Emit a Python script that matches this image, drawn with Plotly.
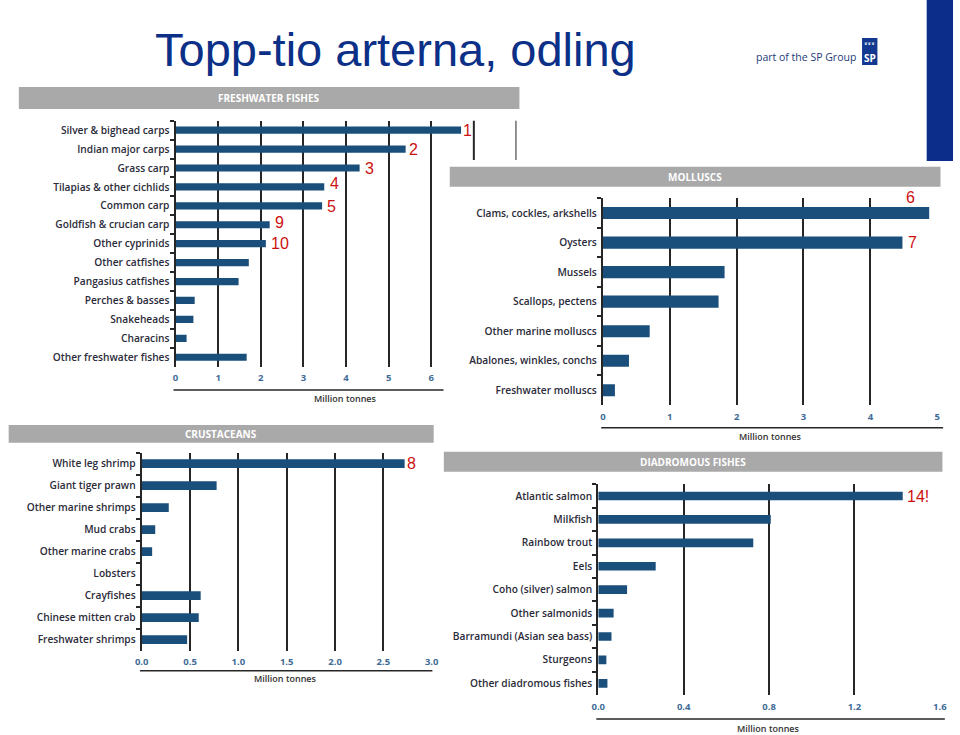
import plotly.graph_objects as go

# ---------------- data ----------------
fresh_species = ["Silver & bighead carps", "Indian major carps", "Grass carp",
                 "Tilapias & other cichlids", "Common carp", "Goldfish & crucian carp",
                 "Other cyprinids", "Other catfishes", "Pangasius catfishes",
                 "Perches & basses", "Snakeheads", "Characins", "Other freshwater fishes"]
fresh_values = [6.70, 5.40, 4.32, 3.49, 3.44, 2.21, 2.12, 1.72, 1.48, 0.45, 0.42, 0.26, 1.67]
fresh_ranks = ["1", "2", "3", "4", "5", "9", "10", None, None, None, None, None, None]
fresh_ticks = [0, 1, 2, 3, 4, 5, 6]
fresh_ticklabels = ["0", "1", "2", "3", "4", "5", "6"]

mollusc_species = ["Clams, cockles, arkshells", "Oysters", "Mussels", "Scallops, pectens",
                   "Other marine molluscs", "Abalones, winkles, conchs", "Freshwater molluscs"]
mollusc_values = [4.88, 4.48, 1.82, 1.73, 0.70, 0.39, 0.18]
mollusc_ranks = ["6", "7", None, None, None, None, None]
mollusc_ticks = [0, 1, 2, 3, 4, 5]
mollusc_ticklabels = ["0", "1", "2", "3", "4", "5"]

crust_species = ["White leg shrimp", "Giant tiger prawn", "Other marine shrimps", "Mud crabs",
                 "Other marine crabs", "Lobsters", "Crayfishes", "Chinese mitten crab",
                 "Freshwater shrimps"]
crust_values = [2.72, 0.775, 0.28, 0.14, 0.108, 0.0, 0.61, 0.59, 0.47]
crust_ranks = ["8", None, None, None, None, None, None, None, None]
crust_ticks = [0.0, 0.5, 1.0, 1.5, 2.0, 2.5, 3.0]
crust_ticklabels = ["0.0", "0.5", "1.0", "1.5", "2.0", "2.5", "3.0"]

diad_species = ["Atlantic salmon", "Milkfish", "Rainbow trout", "Eels", "Coho (silver) salmon",
                "Other salmonids", "Barramundi (Asian sea bass)", "Sturgeons",
                "Other diadromous fishes"]
diad_values = [1.426, 0.808, 0.726, 0.269, 0.135, 0.072, 0.062, 0.038, 0.043]
diad_ranks = ["14!", None, None, None, None, None, None, None, None]
diad_ticks = [0.0, 0.4, 0.8, 1.2, 1.6]
diad_ticklabels = ["0.0", "0.4", "0.8", "1.2", "1.6"]

panel_titles = ["FRESHWATER FISHES", "MOLLUSCS", "CRUSTACEANS", "DIADROMOUS FISHES"]
axis_title = "Million tonnes"
page_title = "Topp-tio arterna, odling"
logo_text = "part of the SP Group"

# ---------------- layout helpers ----------------
W, H = 960, 735


def px(x):
    return x / W


def py(y):
    return 1 - y / H


BAR_COLOR = "#1a4f7c"
GRID_COLOR = "#262626"
LABEL_COLOR = "#2b2b3a"
TICK_COLOR = "#3f6c97"
RED = "#cc1111"
HEADER_GRAY = "#a9a9a9"

panels = [
    dict(species=fresh_species, values=fresh_values, ranks=fresh_ranks,
         ticks=fresh_ticks, ticklabels=fresh_ticklabels, xrange=[0, 8],
         xd=(171, 517), yd=(120.7, 366.7), bw=0.38,
         header=(12, 520, 87, 109), line=(169, 443, 390), mt_y=398, mt_x=344,
         title=panel_titles[0]),
    dict(species=mollusc_species, values=mollusc_values, ranks=mollusc_ranks,
         ticks=mollusc_ticks, ticklabels=mollusc_ticklabels, xrange=[0, 5.0001],
         xd=(604.7, 944), yd=(198.3, 405), bw=0.41,
         header=(449.3, 947.3, 166.7, 186.7), line=(603, 950, 427.7), mt_y=436, mt_x=775,
         title=panel_titles[1]),
    dict(species=crust_species, values=crust_values, ranks=crust_ranks,
         ticks=crust_ticks, ticklabels=crust_ticklabels, xrange=[0, 3.0001],
         xd=(136.7, 431), yd=(452.7, 650.7), bw=0.40,
         header=(1.7, 433, 425, 442.7), line=(135, 431.7, 670.7), mt_y=678, mt_x=283,
         title=panel_titles[2]),
    dict(species=diad_species, values=diad_values, ranks=diad_ranks,
         ticks=diad_ticks, ticklabels=diad_ticklabels, xrange=[0, 1.6001],
         xd=(600, 946.7), yd=(484.3, 695), bw=0.37,
         header=(443.3, 949.3, 451.7, 471.7), line=(598, 951.7, 719), mt_y=728, mt_x=773,
         title=panel_titles[3]),
]

# label offsets (style only): xshift, yshift in px
rank_offsets = {"1": (0, 0), "2": (1, 0), "3": (3, 0), "4": (4, 3), "5": (3, -1),
                "9": (3, 2), "10": (3, 0), "6": (-25, 16), "7": (4, 0), "8": (0, 0),
                "14!": (2, 0)}

fig = go.Figure()
layout = dict(width=W, height=H, autosize=False, margin=dict(l=0, r=0, t=0, b=0, pad=0),
              paper_bgcolor="white", plot_bgcolor="white", showlegend=False,
              shapes=[], annotations=[])

# Header shapes first (below everything)
for i, p in enumerate(panels):
    x0, x1, y0, y1 = p["header"]
    layout["shapes"].append(dict(type="rect", xref="paper", yref="paper",
                                 x0=px(x0), x1=px(x1), y0=py(y1), y1=py(y0),
                                 fillcolor=HEADER_GRAY, line=dict(width=0), layer="below"))
    layout["annotations"].append(dict(xref="paper", yref="paper", x=px((x0 + x1) / 2),
                                      y=py((y0 + y1) / 2), text="<b>%s</b>" % p["title"],
                                      showarrow=False, xanchor="center", yanchor="middle",
                                      font=dict(family="Open Sans", size=10, color="white")))

for i, p in enumerate(panels):
    n = i + 1
    xa = "x" if n == 1 else "x%d" % n
    ya = "y" if n == 1 else "y%d" % n
    xkey = "xaxis" if n == 1 else "xaxis%d" % n
    ykey = "yaxis" if n == 1 else "yaxis%d" % n
    cnt = len(p["species"])

    fig.add_trace(go.Bar(x=p["values"], y=p["species"], orientation="h",
                         xaxis=xa, yaxis=ya, width=p["bw"],
                         marker=dict(color=BAR_COLOR, line=dict(width=0)),
                         hoverinfo="x+y"))

    layout[xkey] = dict(domain=[px(p["xd"][0]), px(p["xd"][1])], anchor=ya,
                        range=p["xrange"], tickvals=p["ticks"], ticktext=p["ticklabels"],
                        showgrid=True, gridcolor=GRID_COLOR, gridwidth=2, zeroline=False,
                        showline=False, ticks="", ticklabelstandoff=4,
                        tickfont=dict(family="Open Sans", size=9.5, color=TICK_COLOR,
                                      weight="bold"),
                        fixedrange=True)
    layout[ykey] = dict(domain=[py(p["yd"][1]), py(p["yd"][0])], anchor=xa,
                        type="category", categoryorder="array", categoryarray=p["species"],
                        range=[cnt - 0.5, -0.5], showline=True, linecolor=GRID_COLOR,
                        linewidth=2, ticks="outside", tickson="boundaries", ticklen=4,
                        tickwidth=1.5, tickcolor=GRID_COLOR, showgrid=False,
                        ticklabelstandoff=2,
                        tickfont=dict(family="Open Sans", size=10.2, color=LABEL_COLOR,
                                      weight=600),
                        fixedrange=True)

    # axis line under tick labels
    lx0, lx1, ly = p["line"]
    layout["shapes"].append(dict(type="line", xref="paper", yref="paper",
                                 x0=px(lx0), x1=px(lx1), y0=py(ly), y1=py(ly),
                                 line=dict(color=GRID_COLOR, width=1.5)))
    layout["annotations"].append(dict(xref="paper", yref="paper", x=px(p["mt_x"]),
                                      y=py(p["mt_y"]), text=axis_title, showarrow=False,
                                      xanchor="center", yanchor="middle",
                                      font=dict(family="Open Sans", size=9, color="#333333",
                                                weight=600)))

    # rank annotations
    for sp, val, rk in zip(p["species"], p["values"], p["ranks"]):
        if rk is None:
            continue
        dx, dy = rank_offsets.get(rk, (2, 0))
        layout["annotations"].append(dict(xref=xa, yref=ya, x=val, y=sp, text=rk,
                                          showarrow=False, xanchor="left", yanchor="middle",
                                          xshift=dx, yshift=dy,
                                          font=dict(family="Liberation Sans", size=16,
                                                    color=RED)))

# freshwater grid lines at 7 and 8, partly hidden by molluscs panel
for gx in (7, 8):
    layout["shapes"].append(dict(type="line", xref="x", yref="paper", x0=gx, x1=gx,
                                 y0=py(120.7), y1=py(160),
                                 line=dict(color=GRID_COLOR, width=2)))

# Page title
layout["annotations"].append(dict(xref="paper", yref="paper", x=px(148), y=py(50),
                                  text=page_title, showarrow=False, xanchor="left",
                                  yanchor="middle",
                                  font=dict(family="Liberation Sans", size=47,
                                            color="#0c2f87")))

# Logo
layout["annotations"].append(dict(xref="paper", yref="paper", x=px(758), y=py(57),
                                  text=logo_text, showarrow=False, xanchor="left",
                                  yanchor="middle",
                                  font=dict(family="Open Sans", size=10.5, color="#1d3a78")))
layout["shapes"].append(dict(type="rect", xref="paper", yref="paper",
                             x0=px(867.7), x1=px(883.3), y0=py(65), y1=py(38),
                             fillcolor="#12398f", line=dict(width=0)))
layout["annotations"].append(dict(xref="paper", yref="paper", x=px(875.5), y=py(58),
                                  text="<b>SP</b>", showarrow=False, xanchor="center",
                                  yanchor="middle",
                                  font=dict(family="Open Sans", size=10, color="white")))
layout["annotations"].append(dict(xref="paper", yref="paper", x=px(875.5), y=py(44),
                                  text="♛♛♛", showarrow=False, xanchor="center",
                                  yanchor="middle",
                                  font=dict(family="DejaVu Sans", size=4, color="white")))
# Right blue bar
layout["shapes"].append(dict(type="rect", xref="paper", yref="paper",
                             x0=px(933.3), x1=1.0, y0=py(161), y1=1.0,
                             fillcolor="#0c2e8a", line=dict(width=0)))

fig.update_layout(**layout)
fig.write_html("out.html",
               config={"displayModeBar": False, "responsive": False},
               post_script="document.body.style.margin='0';"
                           "document.body.style.overflow='hidden';"
                           "document.documentElement.style.overflow='hidden';")
